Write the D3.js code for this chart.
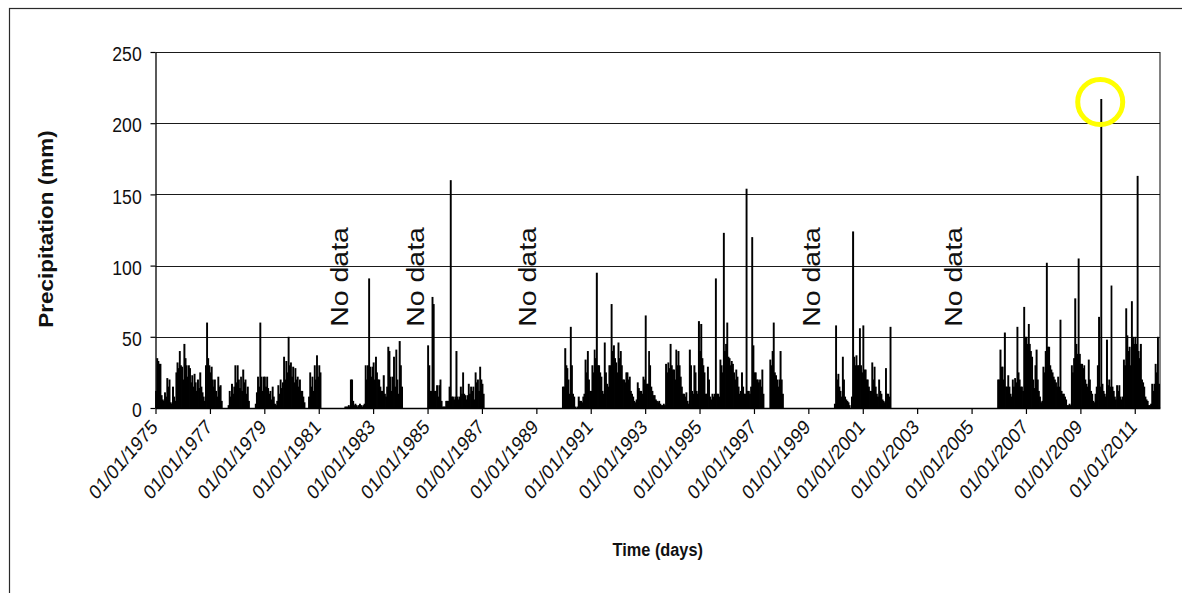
<!DOCTYPE html>
<html>
<head>
<meta charset="utf-8">
<script src="https://cdn.jsdelivr.net/npm/d3@7"></script>
<style>
  html, body { margin: 0; padding: 0; background: #ffffff; }
  svg { display: block; }
  text { font-family: "Liberation Sans", Arial, Helvetica, sans-serif; fill: #111111; }
</style>
</head>
<body>
<svg id="chart" width="1182" height="593"></svg>
<script>
// Rainfall record, kept as half-monthly peak daily totals (mm).
// Each run starts on the date in runStarts and steps on the 1st and 16th of every month.
const runStarts = ["1975-01-01", "1981-12-16", "1985-01-01", "1989-12-16", "1999-12-16", "2005-12-16"];

const rain1975 = [
  12,35,33,31,31,9,6,5,11,8, 21,15,20,4,3,15,8,5,25,32, 28,40,30,29,20,45,35,30,22,30,
  28,18,23,15,24,18,12,20,14,25, 15,11,8,5,30,60,35,30,25,29, 20,15,20,12,8,22,15,16,5,0,
  0,0,0,0,2,12,8,17,10,15, 30,18,30,20,14,22,12,27,18,20, 10,15,5,0,0,0,0,0,3,11,
  22,15,60,22,12,22,22,15,22,14, 10,12,6,15,8,3,2,5,16,10, 20,14,18,36,20,33,25,50,30,32,
  22,29,18,28,20,22,15,20,12,12, 8,4,0,0,0,8,25,15,22,12, 30,20,37,22,30,25
];
const rain1982 = [
  1,1,1,2,1,20,20,5,2,3, 2,1,2,3,2,1,2,3,30,20, 30,91,29,22,29,32,20,36,25,20,
  20,15,12,12,23,10,8,15,43,40, 22,12,22,36,15,41,20,10,47,30, 15
];
const rain1985 = [
  44,30,12,12,78,73,12,12,16,8, 16,20,5,1,1,1,5,5,5,15, 160,8,8,6,8,40,8,6,8,15,
  10,25,10,9,6,9,17,10,15,12, 15,6,25,18,20,12,29,20,17,10
];
const rain1990 = [
  15,15,42,30,28,20,10,57,30,10, 8,1,0,1,8,5,5,4,8,10, 34,25,40,20,12,12,30,25,41,35,
  95,30,30,25,22,12,10,46,25,17, 15,30,30,73,40,44,35,32,25,46, 35,40,30,20,20,18,25,25,20,22,
  12,10,8,5,4,6,18,14,12,12, 10,22,20,65,17,17,40,30,15,12, 9,9,6,5,4,5,3,2,2,3,
  2,31,25,32,28,45,30,27,27,20, 41,30,40,30,22,15,10,10,8,11, 5,3,41,30,12,10,30,25,12,10,
  61,40,59,35,30,25,10,10,29,20, 8,6,10,8,10,91,10,10,8,34, 30,25,123,40,45,60,36,35,30,33,
  31,25,20,27,22,15,10,12,25,15, 10,10,154,12,12,10,15,120,44,25, 25,20,20,18,20,15,27,10,0,0,
  0,0,0,34,30,40,60,25,23,20, 15,20,40,20,10
];
const rain2000 = [
  3,58,20,24,15,12,8,36,20,8, 6,5,4,2,0,8,124,36,30,37, 30,30,56,30,25,58,27,27,20,20,
  15,12,12,32,20,29,15,10,8,20, 12,10,6,5,4,28,10,10,8,57
];
const rain2006 = [
  20,20,41,29,29,20,53,15,15,23, 15,10,8,20,15,21,18,57,25,20, 15,15,12,71,50,50,45,59,45,40,
  36,20,14,30,41,20,12,8,4,5, 29,25,40,102,43,43,30,27,25,22, 20,18,15,22,15,62,12,10,10,8,
  6,2,2,3,2,30,25,35,77,45, 38,105,38,31,31,28,30,20,17,15, 34,20,12,10,5,4,10,15,30,64,
  15,217,17,12,10,8,48,16,20,15, 86,15,12,8,6,16,12,16,8,6, 8,34,30,70,51,40,43,30,75,50,
  45,50,45,163,40,35,45,20,18,15, 8,6,5,2,2,3,17,12,17,31, 25,50,17
];
const runs = [rain1975, rain1982, rain1985, rain1990, rain2000, rain2006];

const yTicks = [0, 50, 100, 150, 200, 250];
const xTickYears = [1975,1977,1979,1981,1983,1985,1987,1989,1991,1993,1995,1997,1999,2001,2003,2005,2007,2009,2011];
const gapLabel = "No data";
const gapLabelDates = ["1981-10-01", "1984-07-15", "1988-08-28", "1999-02-06", "2004-04-25"];
const yTitle = "Precipitation (mm)";
const xTitle = "Time (days)";

// ---- layout -------------------------------------------------------------
const SQ = 0.86;                        // horizontal compression of the lettering
const TICK_FONT = "20.5px";
const parse = d3.timeParse("%Y-%m-%d");
const svg = d3.select("#chart");

const x = d3.scaleTime()
  .domain([new Date(1975, 0, 1), new Date(2011, 11, 6)])
  .range([155.5, 1160]);
const y = d3.scaleLinear().domain([0, 250]).range([408, 52]);

// half-month index <-> date
const halfDate = h => new Date(1975 + Math.floor(h / 24), Math.floor((h % 24) / 2), h % 2 ? 16 : 1);
const toHalf = d => (d.getFullYear() - 1975) * 24 + d.getMonth() * 2 + (d.getDate() >= 16 ? 1 : 0);

// outer frame
svg.append("rect")
  .attr("x", 9.5).attr("y", 8.5).attr("width", 1200).attr("height", 600)
  .attr("fill", "none").attr("stroke", "#2a2a2a").attr("stroke-width", 1.2);

// horizontal grid
svg.append("g").selectAll("line")
  .data(yTicks.filter(v => v > 0))
  .join("line")
  .attr("x1", x.range()[0]).attr("x2", x.range()[1])
  .attr("y1", d => Math.round(y(d)) + 0.5).attr("y2", d => Math.round(y(d)) + 0.5)
  .attr("stroke", "#1a1a1a").attr("stroke-width", 1.1);

// right edge of the plot area
svg.append("line")
  .attr("x1", x.range()[1]).attr("x2", x.range()[1])
  .attr("y1", y(250)).attr("y2", y(0))
  .attr("stroke", "#1a1a1a").attr("stroke-width", 1.1);

// bars
const bars = [];
runs.forEach((vals, r) => {
  const h0 = toHalf(parse(runStarts[r]));
  vals.forEach((v, i) => {
    if (v > 0) bars.push({ d0: halfDate(h0 + i), d1: halfDate(h0 + i + 1), v });
  });
});
svg.append("g")
  .selectAll("rect").data(bars).join("rect")
  .attr("x", d => x(d.d0) - 0.4)
  .attr("width", d => x(d.d1) - x(d.d0) + 0.8)
  .attr("y", d => y(d.v))
  .attr("height", d => y(0) - y(d.v))
  .attr("fill", "#000000");

// y axis
const gy = svg.append("g")
  .attr("transform", `translate(${x.range()[0]},0)`)
  .call(d3.axisLeft(y).tickValues(yTicks).tickSize(5).tickSizeOuter(0));
gy.select(".domain").attr("stroke", "#000").attr("stroke-width", 1.3);
gy.selectAll(".tick line").attr("stroke", "#000").attr("stroke-width", 1.2);
gy.selectAll(".tick text")
  .attr("x", 0).attr("dy", "0.42em")
  .attr("transform", `translate(-13.8,0) scale(${SQ},1)`)
  .attr("text-anchor", "end")
  .style("font-size", TICK_FONT).style("font-family", "'Liberation Sans', Arial, sans-serif")
  .attr("fill", "#111");

// x axis
const gx = svg.append("g")
  .attr("transform", `translate(0,${y(0)})`)
  .call(d3.axisBottom(x)
    .tickValues(xTickYears.map(yr => new Date(yr, 0, 1)))
    .tickFormat(d3.timeFormat("%d/%m/%Y"))
    .tickSize(6).tickSizeOuter(0));
gx.select(".domain").attr("stroke", "#000").attr("stroke-width", 1.3);
gx.selectAll(".tick line").attr("stroke", "#000").attr("stroke-width", 1.2);
gx.selectAll(".tick text")
  .attr("x", 0).attr("y", 0).attr("dy", "0.71em")
  .attr("transform", `translate(-6.2,10) scale(${SQ},1) rotate(-45)`)
  .attr("text-anchor", "end")
  .style("font-size", TICK_FONT).style("font-family", "'Liberation Sans', Arial, sans-serif")
  .attr("fill", "#111");

// axis titles
svg.append("text")
  .attr("transform", `translate(46,229) scale(${SQ},1) rotate(-90)`)
  .attr("text-anchor", "middle").attr("dy", "0.35em")
  .style("font-size", "22.5px").style("font-weight", "bold")
  .text(yTitle);

svg.append("text")
  .attr("transform", `translate(${(x.range()[0] + x.range()[1]) / 2},549) scale(${SQ},1)`)
  .attr("text-anchor", "middle").attr("dy", "0.35em")
  .style("font-size", "19px").style("font-weight", "bold")
  .text(xTitle);

// gap annotations
svg.append("g").selectAll("text")
  .data(gapLabelDates)
  .join("text")
  .attr("transform", d => `translate(${x(parse(d))},${y(92)}) scale(${SQ},1) rotate(-90)`)
  .attr("text-anchor", "middle").attr("dy", "0.36em")
  .style("font-size", "28.5px")
  .text(gapLabel);

// ring around the record peak
const peak = bars.reduce((a, b) => (b.v > a.v ? b : a));
svg.append("circle")
  .attr("cx", x(peak.d0) - 0.5)
  .attr("cy", y(peak.v) + 3)
  .attr("r", 22.5)
  .attr("fill", "none")
  .attr("stroke", "#ffff00")
  .attr("stroke-width", 5);
</script>
</body>
</html>
